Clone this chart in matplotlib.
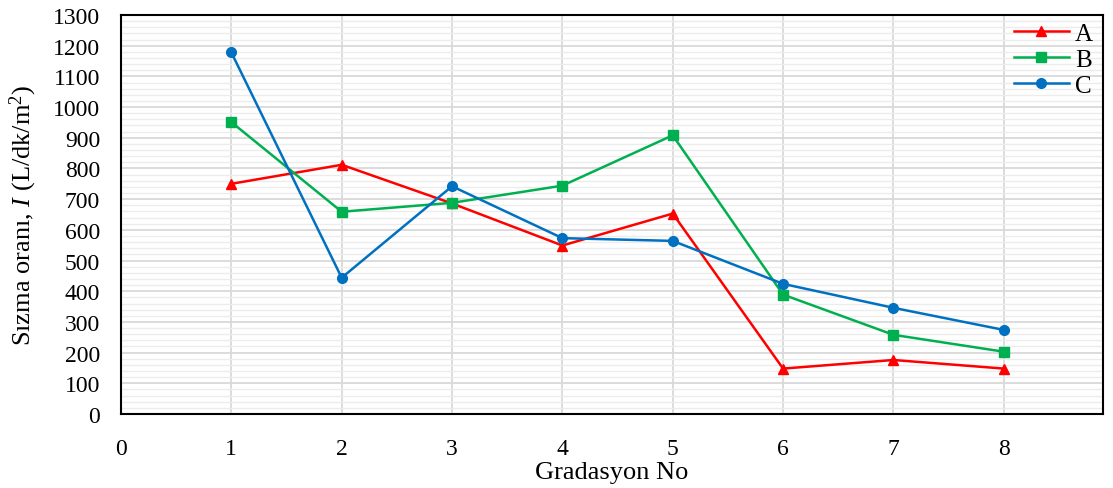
import numpy as np
import matplotlib as mpl
import matplotlib.pyplot as plt
from matplotlib.ticker import MultipleLocator

mpl.rcParams['font.family'] = 'Liberation Serif'
mpl.rcParams['mathtext.fontset'] = 'custom'
mpl.rcParams['mathtext.rm'] = 'Liberation Serif'
mpl.rcParams['mathtext.it'] = 'Liberation Serif:italic'

gradasyon = [1, 2, 3, 4, 5, 6, 7, 8]
seri_a = [750, 812, 686, 549, 653, 148, 176, 148]
seri_b = [951, 659, 688, 744, 908, 389, 258, 203]
seri_c = [1178, 444, 742, 573, 564, 424, 346, 274]

fig = plt.figure(figsize=(11.13, 4.89), dpi=100)
ax = fig.add_axes([0.1087, 0.1513, 0.8824, 0.8160])

ax.plot(gradasyon, seri_a, color='#FF0000', marker='^', markersize=7.5, lw=1.8, label='A')
ax.plot(gradasyon, seri_b, color='#00B050', marker='s', markersize=7, lw=1.8, label='B')
ax.plot(gradasyon, seri_c, color='#0070C0', marker='o', markersize=7, lw=1.8, label='C')

ax.set_xlim(0, 8.9)
ax.set_ylim(0, 1300)
ax.xaxis.set_major_locator(MultipleLocator(1))
ax.yaxis.set_major_locator(MultipleLocator(100))
ax.yaxis.set_minor_locator(MultipleLocator(20))
ax.grid(which='major', color='#d9d9d9', lw=1.3)
ax.grid(which='minor', axis='y', color='#ececec', lw=1.0)
ax.set_axisbelow(True)
ax.tick_params(which='both', length=0, labelsize=17)
ax.tick_params(axis='x', pad=17)
ax.tick_params(axis='y', pad=15)
for s in ax.spines.values():
    s.set_linewidth(1.5)
    s.set_color('black')

ax.set_xlabel('Gradasyon No', fontsize=19, labelpad=2)
ax.set_ylabel(r'Sızma oranı, $\mathit{I}$ (L/dk/m$^2$)', fontsize=19, labelpad=10)

ax.legend(loc='upper right', bbox_to_anchor=(1.0, 1.007), frameon=False, fontsize=18,
          handlelength=2.2, labelspacing=0.14, handletextpad=0.25, borderaxespad=0.0)

fig.savefig('out.png', dpi=100)
